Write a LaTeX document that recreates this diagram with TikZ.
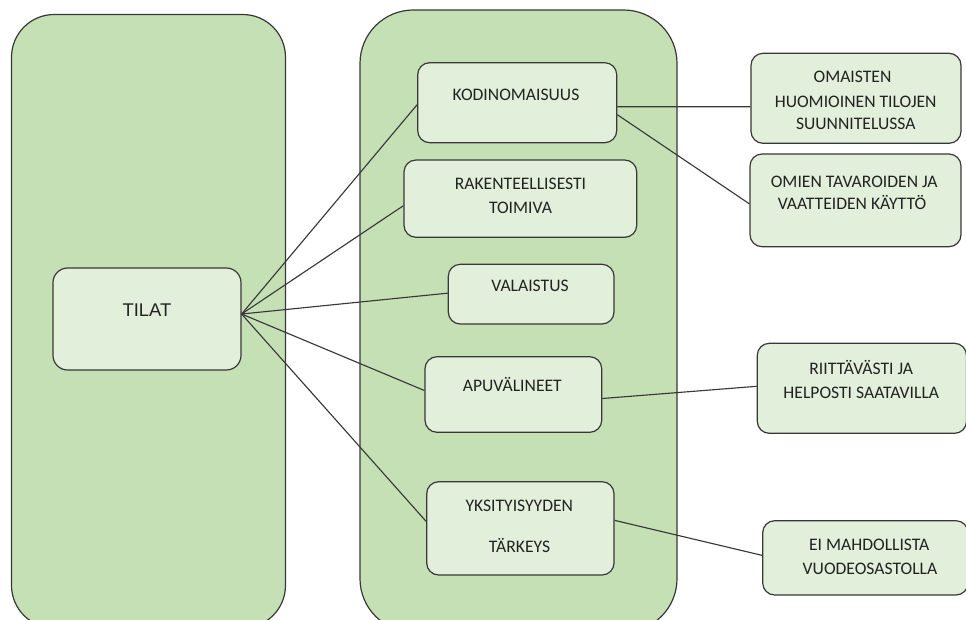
\documentclass[tikz,border=0pt]{standalone}
\usepackage{fontspec}
\setmainfont{Carlito}
\newfontfamily\titlefont{Liberation Sans}
\usetikzlibrary{calc,fit}

\definecolor{panelgreen}{HTML}{C5E0B4}
\definecolor{boxgreen}{HTML}{E2EFDA}
\definecolor{edgegray}{HTML}{383838}
\definecolor{inkgray}{HTML}{222222}

\begin{document}
\begin{tikzpicture}[x=0.75pt,y=-0.75pt,
  panel/.style={draw=edgegray, fill=panelgreen, line width=0.9pt, inner sep=0pt},
  itembox/.style={draw=edgegray, fill=boxgreen, line width=0.9pt, inner sep=0pt, rounded corners=9pt},
  lbl/.style={anchor=base, inner sep=0pt, text=inkgray, font=\fontsize{13.2}{16}\selectfont},
  link/.style={draw=edgegray, line width=0.85pt}]

\useasboundingbox (0,0) rectangle (966,619);
\begin{scope}
\clip (0,0) rectangle (966,619);

% the two tall panels
\node[panel, rounded corners=32pt, fit={(11.5,14.5) (285.5,628)}] (leftpanel) {};
\node[panel, rounded corners=40pt, fit={(360,10) (677,632)}] (midpanel) {};

% main topic
\node[itembox, rounded corners=11pt, fit={(53,268) (241,370)}] (tilat) {};
\node[anchor=base, inner sep=0pt, text=inkgray, font=\titlefont\fontsize{13.8}{16}\selectfont] (tilattxt) at (147,316.5) {TILAT};

% sub-topics in the middle panel
\node[itembox, fit={(417.7,62.7) (616.7,142.7)}] (kod) {};
\node[lbl] (kodtxt) at (516,100) {KODINOMAISUUS};

\node[itembox, fit={(404,160) (636.7,237.3)}] (rak) {};
\node[lbl] (raktxta) at (520.5,189.3) {RAKENTEELLISESTI};
\node[lbl] (raktxtb) at (520.5,213) {TOIMIVA};

\node[itembox, fit={(448.3,264.3) (614,324)}] (val) {};
\node[lbl] (valtxt) at (530,291.5) {VALAISTUS};

\node[itembox, fit={(425,356.7) (601.7,432.3)}] (apu) {};
\node[lbl] (aputxt) at (512.3,391.7) {APUVÄLINEET};

\node[itembox, fit={(426.7,481.7) (614,575)}] (yks) {};
\node[lbl] (ykstxta) at (519.3,511.7) {YKSITYISYYDEN};
\node[lbl] (ykstxtb) at (519.5,552) {TÄRKEYS};

% details on the right
\node[itembox, fit={(751,53.3) (961,143.3)}] (oma) {};
\node[lbl] (omatxta) at (852.5,82.7) {OMAISTEN};
\node[lbl] (omatxtb) at (855.7,107.3) {HUOMIOINEN TILOJEN};
\node[lbl] (omatxtc) at (855.8,129) {SUUNNITELUSSA};

\node[itembox, fit={(750,154) (961,246.7)}] (omi) {};
\node[lbl] (omitxta) at (854.2,187.3) {OMIEN TAVAROIDEN JA};
\node[lbl] (omitxtb) at (852,209.7) {VAATTEIDEN KÄYTTÖ};

\node[itembox, fit={(757.3,343.3) (966.5,433.3)}] (rii) {};
\node[lbl] (riitxta) at (861.2,374) {RIITTÄVÄSTI JA};
\node[lbl] (riitxtb) at (861.3,398.3) {HELPOSTI SAATAVILLA};

\node[itembox, fit={(762.7,520.7) (968,595)}] (ei) {};
\node[lbl] (eitxta) at (869.2,550) {EI MAHDOLLISTA};
\node[lbl] (eitxtb) at (870,574) {VUODEOSASTOLLA};

% connectors
\coordinate (hub) at ($(tilat.east)+(0,-5)$);
\draw[link] (hub) -- ($(kod.west)+(0,2)$);
\draw[link] (hub) -- ($(rak.west)+(0,7)$);
\draw[link] (hub) -- ($(val.west)+(0,-1)$);
\draw[link] (hub) -- ($(apu.west)+(0,-4)$);
\draw[link] (hub) -- ($(yks.west)+(0,-7)$);

\draw[link] ($(kod.east)+(0,4)$) -- ($(oma.west)+(0,8.4)$);
\draw[link] ($(kod.east)+(0,12)$) -- ($(omi.west)+(0,3.5)$);
\draw[link] ($(apu.east)+(0,4)$) -- ($(rii.west)+(0,-2)$);
\draw[link] ($(yks.east)+(0,-8)$) -- ($(ei.west)+(0,-2.5)$);
\end{scope}
\end{tikzpicture}
\end{document}
